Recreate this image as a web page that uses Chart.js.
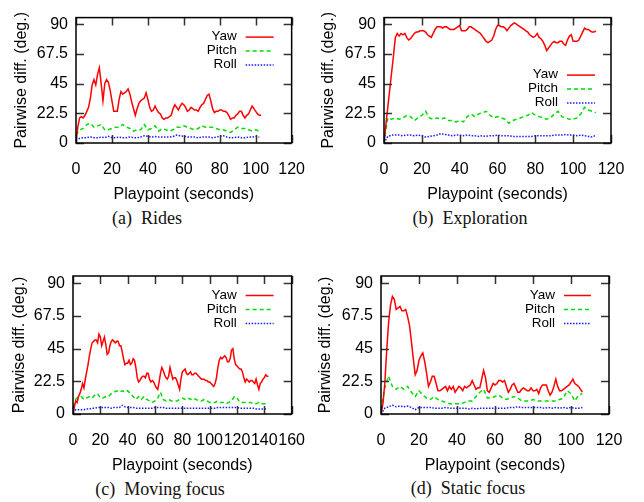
<!DOCTYPE html>
<html lang="en">
<head>
<meta charset="UTF-8">
<title>Pairwise difference over playpoint</title>
<script src="https://cdn.jsdelivr.net/npm/chart.js"></script>
<style>
  body {
    margin: 0;
    width: 644px;
    height: 502px;
    position: relative;
    overflow: hidden;
    background: #fff;
  }
  canvas { position: absolute; }
  .caption {
    position: absolute;
    font-family: "Liberation Serif", "DejaVu Serif", serif;
    font-size: 18px;
    line-height: 20px;
    color: #111;
    white-space: nowrap;
    transform: translateX(-50%);
  }
</style>
</head>
<body>
<div class="caption" style="left:147px;top:208px">(a)&ensp;Rides</div>
<div class="caption" style="left:470px;top:208px">(b)&ensp;Exploration</div>
<div class="caption" style="left:160px;top:479px">(c)&ensp;Moving focus</div>
<div class="caption" style="left:468px;top:478px">(d)&ensp;Static focus</div>

<script>
// sampling interval (seconds) of the yaw series and of the pitch / roll series
const YAW_STEP = 1;
const ROT_STEP = 2;

const seriesNames = ['Yaw', 'Pitch', 'Roll'];
const yTicks = [0, 22.5, 45, 67.5, 90];
const yMax = 95;

// (a) Rides
const ridesYaw = [1,12,19,20,19,21,24,27,34,44, 48,44,52,57,45,32,45,48,46,40,
  32,24,24,24,33,39,37,38,39,41, 37,31,26,21,26,30,32,33,34,38,
  33,27,24,25,28,25,23,22,19,18, 19,19,20,21,26,29,27,25,28,30,
  29,27,24,25,27,26,25,25,24,27, 29,30,33,36,37,32,26,23,24,24,
  25,25,24,24,23,21,18,19,19,21, 22,24,24,21,19,21,22,25,28,26,
  24,22,21,21];
const ridesPitch = [6,10,11,14,15,12,13,14,10,10, 11,12,12,14,12,11,9,10,10,14,
  10,11,13,9,11,10,9,10,12,12, 13,12,11,10,11,13,12,12,12,11,
  10,10,9,8,10,12,11,11,10,9, 10,9];
const ridesRoll = [2,3.5,4,4,4.5,4,4,4.5,4,5, 4,4,4.5,4,4,4.5,4,4,4.5,5.5,
  5,4.5,5,4.5,4.5,4.5,4.5,5,6,5.5, 5,4.5,4.5,4.5,4,4.5,4.5,4.5,4,4.5,
  5,5.5,4.5,4,4,4.5,4,4,4.5,4.5, 5,4.5];

// (b) Exploration
const exploreYaw = [1,14,27,40,53,66,80,83,81,83, 82,83,80,78,79,81,83,84,84,85,
  85,85,84,82,81,80,83,86,88,88, 88,87,88,88,87,86,86,86,87,88,
  89,85,85,85,86,88,88,87,86,85, 84,83,81,79,77,76,77,78,81,86,
  89,89,88,88,87,85,87,89,90,91, 90,89,88,87,86,85,84,82,81,80,
  81,83,80,79,77,74,70,72,74,76, 77,76,76,77,77,75,74,78,81,82,
  77,77,77,78,81,84,87,86,86,85, 84,84,85];
const explorePitch = [0,19,18,19,18,19,21,20,17,19, 21,24,19,18,19,18,19,17,17,16,
  17,16,20,22,20,22,23,24,21,19, 20,19,18,15,17,18,19,20,21,23,
  21,20,19,18,19,22,24,20,19,18, 18,19,22,27,25,24,23];
const exploreRoll = [0,5,6,6,6,5.5,6,6,5.5,6, 5.5,4.5,5,5.5,6,7,6.5,6,5.5,6,
  6,5.5,6,5.5,5.5,5,5.5,5,5.5,5.5, 6,5.5,5.5,5.5,5,5,5,5,5,5,
  5.5,5.5,5.5,5.5,5.5,6,6,6,6.5,6, 6,5.5,6,5.5,5,4.5,6];

// (c) Moving focus
const movingYaw = [0,5,9,8,12,14,17,21,18,24, 29,34,40,45,49,50,51,51,49,55,
  53,47,50,53,48,41,42,47,50,51, 50,49,50,50,47,47,43,38,34,35,
  35,37,34,35,38,37,32,25,22,23, 25,26,26,25,28,28,24,22,23,22,
  20,18,17,22,28,32,30,27,25,24, 26,32,28,24,25,25,23,20,17,24,
  29,30,31,28,27,28,29,27,27,28, 28,27,26,25,24,24,24,23,23,22,
  22,21,20,19,21,25,32,37,39,38, 39,40,39,36,36,38,44,45,38,34,
  33,32,31,31,29,25,22,24,23,22, 23,23,22,21,24,20,17,21,22,24,
  25,27,26,26];
const movingPitch = [5,10,12,12,10,11,12,11,13,14, 11,11,12,12,14,15,16,15,16,15,
  16,14,12,10,12,10,12,10,9,8, 9,11,15,10,9,10,9,9,9,10,
  11,10,11,10,11,10,9,9,10,9, 8,8,8,9,8,8,7,8,9,12,
  11,8,8,8,8,8,7,7,8,7, 7,7];
const movingRoll = [1,3,3,3,3,3.5,3.5,4,4,4.5, 4.5,4.5,4.5,4.5,4,4.5,4.5,4.5,6,5,
  4.5,4.5,4.5,4,4,4,4,4,4,4, 4.5,4.5,4.5,4.5,4,4,4,4,4,4,
  4,4,4,4,4,4,4,4,4,4, 4,4,4,4.5,4.5,4.5,4.5,4.5,4.5,4.5,
  4.5,4,4,4,4,4,4,3.5,3.5,3.5, 3.5,3.5];

// (d) Static focus
const staticYaw = [0,7,21,44,63,75,81,79,72,73, 74,71,71,72,67,61,50,38,27,30,
  37,40,42,36,28,19,22,26,26,21, 16,16,17,18,19,16,19,17,19,15,
  17,19,18,16,19,18,19,20,23,20, 17,18,18,24,30,25,16,15,18,21,
  20,21,23,23,22,23,19,15,17,20, 21,18,15,15,17,18,17,16,16,18,
  16,16,17,14,18,20,20,20,16,13, 15,19,24,19,16,16,17,18,19,20,
  22,24,21,20,19,17,15];
const staticPitch = [3,18,26,19,17,19,17,19,15,12, 16,13,11,10,12,10,9,8,7,7,
  7,7,8,9,9,12,15,17,11,11, 12,13,11,10,11,12,11,9,9,9,
  10,9,9,9,9,9,9,10,11,16, 14,9,13,14];
const staticRoll = [0,4,5,6,5,5.5,5,5.5,4.5,3, 4.5,4.5,4.5,4.5,4,4,4,4.5,4,4,
  4,4,4,3.5,4,3.5,4,4,4,4, 4,4,4,4,4.5,4.5,5,4.5,4.5,4.5,
  4.5,4.5,4.5,4,4.5,4,4.5,4,4.5,4, 4.5,4,4,4.5];

const FONT = '"Liberation Sans", Arial, Helvetica, sans-serif';
const TICK_LEN = 8;

// inward tick marks on all four sides plus the closed frame (gnuplot look)
const frame = {
  id: 'frame',
  afterDatasetsDraw(chart) {
    const {ctx, chartArea: a, scales: {x, y}} = chart;
    ctx.save();
    ctx.strokeStyle = '#333';
    ctx.lineWidth = 1.5;
    ctx.beginPath();
    x.ticks.forEach(t => {
      const px = Math.round(x.getPixelForValue(t.value)) + 0.5;
      ctx.moveTo(px, a.bottom); ctx.lineTo(px, a.bottom - TICK_LEN);
      ctx.moveTo(px, a.top); ctx.lineTo(px, a.top + TICK_LEN);
    });
    y.ticks.forEach(t => {
      const py = Math.round(y.getPixelForValue(t.value)) + 0.5;
      ctx.moveTo(a.left, py); ctx.lineTo(a.left + TICK_LEN, py);
      ctx.moveTo(a.right, py); ctx.lineTo(a.right - TICK_LEN, py);
    });
    ctx.stroke();
    ctx.strokeStyle = '#000';
    ctx.strokeRect(a.left, a.top, a.right - a.left, a.bottom - a.top);
    ctx.restore();
  }
};

// key in the upper right: text right-aligned, line sample after it
const key = {
  id: 'key',
  afterDraw(chart, args, o) {
    const {ctx, chartArea: a} = chart;
    ctx.save();
    ctx.font = '13.5px ' + FONT;
    ctx.fillStyle = '#000';
    ctx.textAlign = 'right';
    ctx.textBaseline = 'middle';
    chart.data.datasets.forEach((ds, i) => {
      const yy = a.top + o.top + i * o.gap;
      ctx.fillText(ds.label, a.right - o.text, yy);
      ctx.strokeStyle = ds.borderColor;
      ctx.lineWidth = ds.borderWidth;
      ctx.setLineDash(ds.borderDash || []);
      ctx.beginPath();
      ctx.moveTo(a.right - o.from, yy + 0.5);
      ctx.lineTo(a.right - o.to, yy + 0.5);
      ctx.stroke();
    });
    ctx.restore();
  }
};

function toPoints(values, step) {
  return values.map((v, i) => ({x: i * step, y: v}));
}

function makePanel(p) {
  const cv = document.createElement('canvas');
  const h = p.plot.bottom - p.top + 62;
  cv.width = p.width;
  cv.height = h;
  cv.style.left = p.left + 'px';
  cv.style.top = p.top + 'px';
  document.body.appendChild(cv);

  new Chart(cv, {
    type: 'line',
    data: {
      datasets: [
        {label: seriesNames[0], data: toPoints(p.yaw, YAW_STEP), borderColor: '#ff0000', borderWidth: 1.5},
        {label: seriesNames[1], data: toPoints(p.pitch, ROT_STEP), borderColor: '#00dd00', borderWidth: 1.5, borderDash: [4, 3]},
        {label: seriesNames[2], data: toPoints(p.roll, ROT_STEP), borderColor: '#1a1aff', borderWidth: 1.5, borderDash: [1.5, 1.5]}
      ]
    },
    options: {
      responsive: false,
      animation: false,
      devicePixelRatio: 1,
      elements: {point: {radius: 0}, line: {tension: 0}},
      layout: {
        padding: {
          top: p.plot.top - p.top,
          right: p.left + p.width - p.plot.right,
          left: 0,
          bottom: 0
        }
      },
      plugins: {
        legend: {display: false},
        tooltip: {enabled: false},
        key: p.key
      },
      scales: {
        x: {
          type: 'linear',
          min: 0,
          max: p.xMax,
          grid: {display: false, drawTicks: false},
          border: {display: false},
          ticks: {stepSize: 20, autoSkip: false, padding: 17, color: '#000', font: {family: FONT, size: 16}, maxRotation: 0},
          title: {display: true, text: 'Playpoint (seconds)', color: '#000', font: {family: FONT, size: 16}, padding: {top: 0, bottom: 1}},
          afterFit: s => { s.height = h - (p.plot.bottom - p.top); }
        },
        y: {
          min: 0,
          max: yMax,
          grid: {display: false, drawTicks: false},
          border: {display: false},
          afterBuildTicks: s => { s.ticks = yTicks.map(v => ({value: v})); },
          ticks: {padding: 8, color: '#000', font: {family: FONT, size: 16}, callback: v => String(v)},
          title: {display: true, text: 'Pairwise diff. (deg.)', color: '#000', font: {family: FONT, size: 16}, padding: {top: p.yTitleX - p.left - 9.6, bottom: 0}},
          afterFit: s => { s.width = p.plot.left - p.left; }
        }
      }
    },
    plugins: [frame, key]
  });
}

const stdKey = {top: 19, gap: 14, text: 55, from: 46, to: 18};

makePanel({left: 0, top: 0, width: 322, plot: {left: 76, top: 5, right: 305, bottom: 143},
  yTitleX: 22, xMax: 120, yaw: ridesYaw, pitch: ridesPitch, roll: ridesRoll, key: stdKey});
makePanel({left: 312, top: 0, width: 332, plot: {left: 384, top: 5, right: 611, bottom: 143},
  yTitleX: 329, xMax: 120, yaw: exploreYaw, pitch: explorePitch, roll: exploreRoll,
  key: {top: 57, gap: 14, text: 53, from: 44, to: 16}});
makePanel({left: 0, top: 255, width: 322, plot: {left: 73, top: 276, right: 302, bottom: 414},
  yTitleX: 20, xMax: 160, yaw: movingYaw, pitch: movingPitch, roll: movingRoll, key: stdKey});
makePanel({left: 312, top: 255, width: 332, plot: {left: 381, top: 276, right: 609, bottom: 414},
  yTitleX: 326, xMax: 120, yaw: staticYaw, pitch: staticPitch, roll: staticRoll,
  key: {top: 19, gap: 14, text: 54, from: 45, to: 18}});
</script>
</body>
</html>
